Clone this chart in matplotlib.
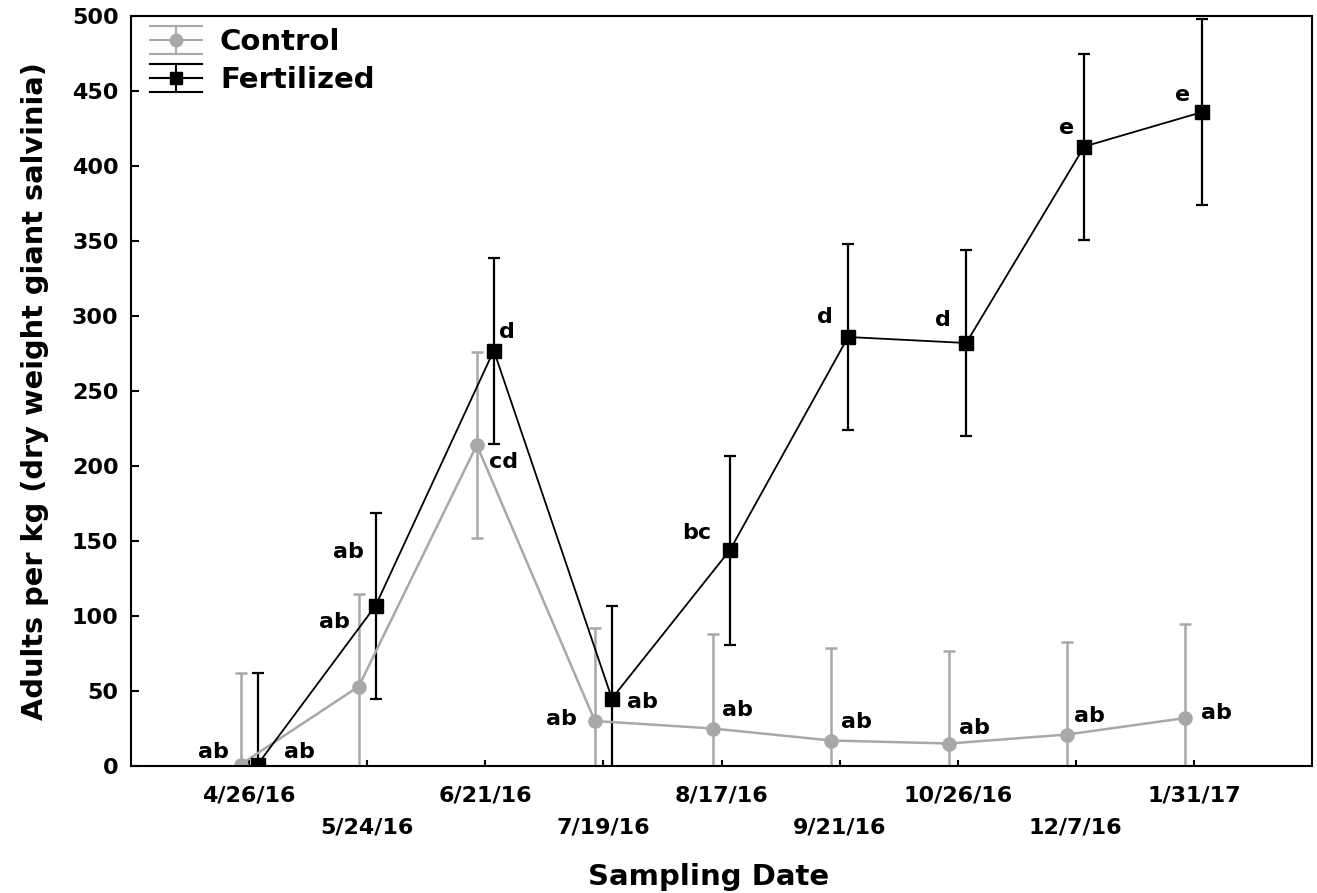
import numpy as np
import matplotlib
matplotlib.use("Agg")
import matplotlib.pyplot as plt
from matplotlib.lines import Line2D
from matplotlib.legend_handler import HandlerBase
from matplotlib.container import ErrorbarContainer

plt.rcParams['font.family'] = ['DejaVu Sans']
plt.rcParams['font.weight'] = 'bold'
plt.rcParams['axes.labelweight'] = 'bold'

dates = ['4/26/16', '5/24/16', '6/21/16', '7/19/16', '8/17/16',
         '9/21/16', '10/26/16', '12/7/16', '1/31/17']
control = [1, 53, 214, 30, 25, 17, 15, 21, 32]
control_se = [61, 62, 62, 62, 63, 62, 62, 62, 63]
fert = [1, 107, 277, 45, 144, 286, 282, 413, 436]
fert_se = [61, 62, 62, 62, 63, 62, 62, 62, 62]
control_letters = ['ab', 'ab', 'cd', 'ab', 'ab', 'ab', 'ab', 'ab', 'ab']
fert_letters = ['ab', 'ab', 'd', 'ab', 'bc', 'd', 'd', 'e', 'e']

# label offsets in pixels (dx, dy)
control_off = [(-27, 12), (-24, 64), (27, -17), (-33, 2), (24, 18),
               (25, 18), (25, 15), (22, 19), (31, 5)]
fert_off = [(42, 13), (-27, 54), (13, 18), (31, -3), (-33, 17),
            (-23, 20), (-23, 23), (-18, 19), (-20, 17)]

gray = '#a8a8a8'
x = np.arange(1, len(dates) + 1)
shift = 0.072


class ErrHandler(HandlerBase):
    # legend key drawn like the sigmaplot one: 3 horizontal lines, a bar and a marker
    def create_artists(self, legend, orig, xd, yd, w, h, fs, trans):
        ln = orig.lines[0]
        c = ln.get_color()
        y0 = h / 2 - yd
        x0, x1 = -xd, -xd + w
        arts = [Line2D([x0, x1], [y0 + d, y0 + d], color=c, lw=1.5) for d in (-10, 0, 10)]
        arts.append(Line2D([(x0 + x1) / 2] * 2, [y0 - 10, y0 + 10], color=c, lw=1.5))
        arts.append(Line2D([(x0 + x1) / 2], [y0], marker=ln.get_marker(), color=c,
                           ms=9, ls='none'))
        for a in arts:
            a.set_transform(trans)
        return arts


fig = plt.figure(figsize=(13.17, 8.93), dpi=100)
ax = fig.add_axes([131 / 1317, 1 - 766 / 893, 1181 / 1317, 750 / 893])

e1 = ax.errorbar(x - shift, control, yerr=control_se, fmt='-o', color=gray, ms=9.5,
                 lw=1.8, elinewidth=1.8, capsize=4.5, capthick=1.8, label='Control')
e2 = ax.errorbar(x + shift, fert, yerr=fert_se, fmt='-s', color='black', ms=9.5,
                 lw=1.3, elinewidth=1.6, capsize=4.5, capthick=1.6, label='Fertilized')

for i in range(len(dates)):
    ax.annotate(control_letters[i], (x[i] - shift, control[i]), xytext=control_off[i],
                textcoords='offset pixels', ha='center', va='center', fontsize=16)
    ax.annotate(fert_letters[i], (x[i] + shift, fert[i]), xytext=fert_off[i],
                textcoords='offset pixels', ha='center', va='center', fontsize=16)

ax.set_xlim(0, 10)
ax.set_ylim(0, 500)
ax.set_yticks(np.arange(0, 501, 50))
ax.set_xticks(x[::2])
ax.set_xticklabels(dates[::2])
ax.set_xticks(x[1::2], minor=True)
ax.set_xticklabels(dates[1::2], minor=True)
ax.tick_params(axis='x', which='both', direction='in', length=4, width=1.5, labelsize=16)
ax.tick_params(axis='x', which='major', pad=14)
ax.tick_params(axis='x', which='minor', pad=37)
ax.tick_params(axis='y', direction='in', length=6, width=1.5, labelsize=16, pad=9)
for s in ax.spines.values():
    s.set_linewidth(1.5)

ax.set_xlabel('Sampling Date', fontsize=21)
ax.xaxis.label.set_va('center')
ax.xaxis.set_label_coords(0.489, -0.148)
ax.set_ylabel('Adults per kg (dry weight giant salvinia)', fontsize=20.8)
ax.yaxis.label.set_va('center')
ax.yaxis.set_label_coords(-0.0813, 0.5)

ax.legend(handles=[e1, e2], handler_map={ErrorbarContainer: ErrHandler()},
          loc='upper left', bbox_to_anchor=(0.016, 0.984), frameon=False,
          fontsize=21, handlelength=1.8, handletextpad=0.6, labelspacing=0.35,
          borderpad=0, borderaxespad=0)

fig.savefig('out.png', dpi=100)
